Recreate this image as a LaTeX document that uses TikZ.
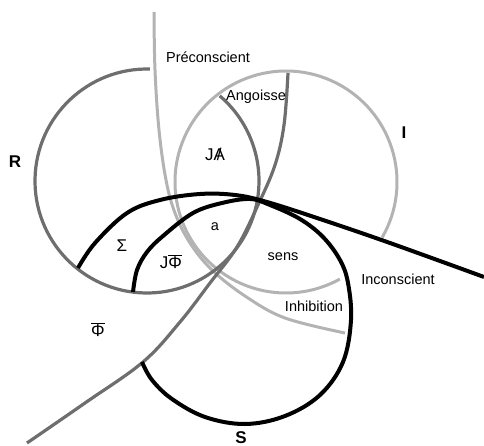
\documentclass[tikz,border=0pt]{standalone}
\usepackage{fontspec}
\setmainfont{Liberation Sans}
\definecolor{dg}{HTML}{6E6E6E}
\definecolor{lg}{HTML}{B3B3B3}
\newcommand\barredA{\ooalign{A\cr\hidewidth/\hidewidth\cr}}
\newcommand\barPhi{\vbox{\hrule height 0.9pt\kern 1pt\hbox{Φ}}}
\tikzset{
 lgline/.style={draw=lg, line width=3pt},
 dgline/.style={draw=dg, line width=3.2pt},
 bkline/.style={draw=black, line width=4pt},
 lbl/.style={font=\fontsize{14.5}{17}\selectfont, inner sep=0pt},
 sym/.style={font=\fontsize{17}{20}\selectfont, inner sep=0pt},
 ring/.style={font=\fontsize{17}{20}\selectfont\bfseries, inner sep=0pt},
}
\begin{document}
\begin{tikzpicture}[x=1pt,y=1pt]
\useasboundingbox (0,0) rectangle (484,-446);
% I ring (light gray)
\draw[lgline] (286,-182) ++(-30:111) arc[start angle=-30,end angle=299,radius=111];
% Preconscient line
\draw[lgline] plot[smooth,tension=0.6] coordinates {(154,-12) (155,-70) (159,-130) (166,-180) (175,-213) (190,-243) (212,-270) (245,-296) (285,-318) (345,-333)};
% R ring (dark gray)
\draw[dgline] (147,-181) ++(88.5:112) arc[start angle=88.5,end angle=409.5,radius=112];
% Phi-bar line
\draw[dgline] plot[smooth,tension=0.6] coordinates {(27,-443) (85,-403) (143,-362) (180,-322) (210,-283) (237,-247) (258,-205) (275,-165) (284,-125) (288,-73)};
% S : outer arc + Inconscient line
\draw[bkline] plot[smooth,tension=0.6] coordinates {(78,-268) (95,-243) (127,-213) (160,-200) (200,-194) (235,-195) (267,-202) (320,-219) (390,-243) (484,-277)};
% S : inner arc + S ring
\draw[bkline] plot[smooth,tension=0.6] coordinates {(133,-292) (137,-270) (147,-252) (163,-236) (193,-213) (222,-203) (250,-199) (270,-205) (300,-219) (323,-237) (340,-260) (348,-283) (351,-320) (343,-362) (320,-395) (285,-416) (245,-424) (205,-417) (172,-399) (152,-380) (142,-362)};
% labels
\node[lbl] (pre) at (208,-57) {Préconscient};
\node[lbl] (ang) at (256,-97) {Angoisse};
\node[lbl] (inc) at (398,-279) {Inconscient};
\node[lbl] (inh) at (314,-306) {Inhibition};
\node[lbl] (sens) at (283,-257) {sens};
\node[lbl] (a) at (215,-227) {a};
\node[ring] (R) at (15,-162) {R};
\node[ring] (I) at (404,-133) {I};
\node[ring] (S) at (241,-438) {S};
\node[sym] (JA) at (215,-155) {J\barredA};
\node[sym] (Sig) at (122,-246) {Σ};
\node[sym] (JP) at (171,-262) {J\barPhi};
\node[sym] (P) at (98,-330) {\barPhi};
\end{tikzpicture}
\end{document}
